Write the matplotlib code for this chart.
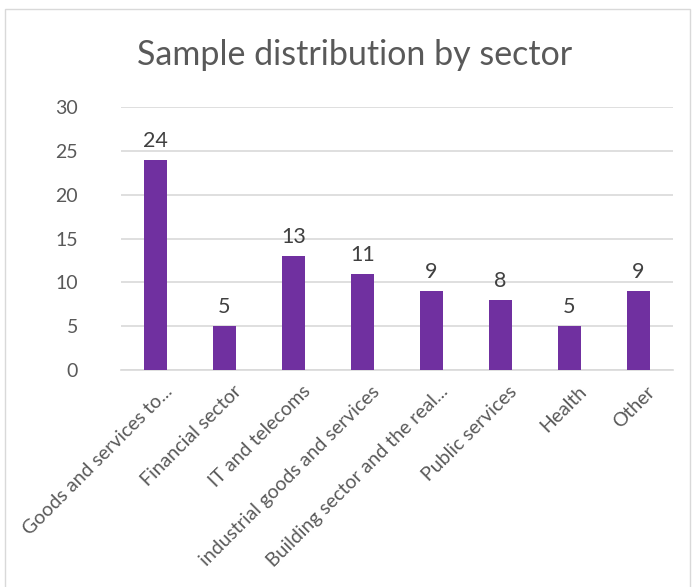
import matplotlib
matplotlib.use("Agg")
import matplotlib.pyplot as plt
import matplotlib.transforms as mtransforms
from matplotlib.patches import Rectangle

# chart data
sectors = ["Goods and services to...", "Financial sector", "IT and telecoms",
           "industrial goods and services", "Building sector and the real...",
           "Public services", "Health", "Other"]
counts = [24, 5, 13, 11, 9, 8, 5, 9]
y_ticks = [0, 5, 10, 15, 20, 25, 30]

plt.rcParams['font.family'] = ['Lato', 'DejaVu Sans']
txt = '#595959'

fig = plt.figure(figsize=(6.94, 5.87), dpi=100)
# outer chart border (bottom edge is cut off in the reference)
fig.patches.append(Rectangle((5/694, -0.02), 685/694, 1.02 - 9/587, transform=fig.transFigure,
                             fill=False, edgecolor='#d9d9d9', linewidth=1))
ax = fig.add_axes([121/694, 217/587, 552/694, 263/587])

x = range(len(sectors))
bars = ax.bar(x, counts, width=0.32, color='#7030A0', zorder=3)
for xi, v in zip(x, counts):
    ax.text(xi, v + 1.0, str(v), ha='center', va='bottom', fontsize=15.5, color='#404040')

ax.set_xlim(-0.5, len(sectors) - 0.5)
ax.set_ylim(0, 30)
ax.set_yticks(y_ticks)
ax.yaxis.grid(True, color='#d9d9d9', linewidth=1.2, zorder=0)
ax.tick_params(axis='both', length=0, colors=txt)
ax.tick_params(axis='y', pad=31, labelsize=14)
ax.set_yticklabels([str(t) for t in y_ticks], ha='right')
ax.set_xticks(list(x))
labels = ax.set_xticklabels(sectors, rotation=45, ha='right', rotation_mode='anchor', fontsize=14)
shift = mtransforms.ScaledTranslation(0.08, -0.08, fig.dpi_scale_trans)
for lab in labels:
    lab.set_transform(lab.get_transform() + shift)
for s in ['top', 'right', 'left']:
    ax.spines[s].set_visible(False)
ax.spines['bottom'].set_color('#d9d9d9')
ax.spines['bottom'].set_linewidth(1.2)

fig.text(355/694, 1 - 55/587, "Sample distribution by sector", ha='center', va='center',
         fontsize=24.5, color=txt)

fig.savefig("out.png", dpi=100)
